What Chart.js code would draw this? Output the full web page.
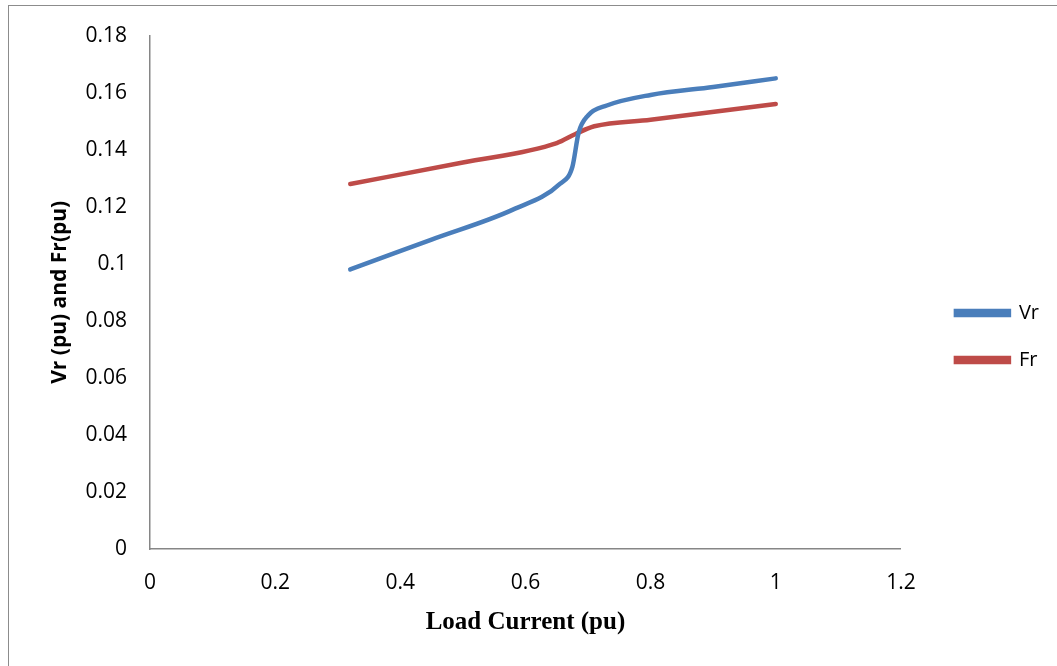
<!DOCTYPE html>
<html>
<head>
<meta charset="utf-8">
<script src="https://cdn.jsdelivr.net/npm/chart.js@4"></script>
<style>
  html, body { margin: 0; padding: 0; background: #fff; }
  #wrap { position: relative; width: 1057px; height: 666px; overflow: hidden; }
  #frame { position: absolute; left: 8px; top: 5px; width: 1060px; height: 680px; border: 1.5px solid #8c8c8c; box-sizing: border-box; }
  #chartCanvas { position: absolute; left: 0; top: 0; }
</style>
</head>
<body>
<div id="wrap">
  <div id="frame"></div>
  <canvas id="chartCanvas" width="1057" height="666"></canvas>
</div>
<script>
// --- data ---
const vrX = [0.32, 0.45, 0.58, 0.655, 0.675, 0.685, 0.70, 0.73, 0.80, 0.90, 1.0];
const vrY = [0.098, 0.1085, 0.119, 0.128, 0.134, 0.146, 0.152, 0.1555, 0.1592, 0.162, 0.165];

const frX = [0.32, 0.50, 0.65, 0.68, 0.71, 0.80, 1.0];
const frY = [0.128, 0.1355, 0.1423, 0.1455, 0.1482, 0.1505, 0.156];

const seriesNames = ["Vr", "Fr"];
const xTitle = "Load Current (pu)";
const yTitle = "Vr (pu) and Fr(pu)";

const toPoints = (xs, ys) => xs.map((x, i) => ({ x, y: ys[i] }));
// Excel style tick text: 0.1 not 0.10, 1 not 1.0
const plainTick = v => String(Number(v.toFixed(2)));

const canvas = document.getElementById("chartCanvas");
const axisColor = "#868686";
const tickFont = { family: "'Open Sans', sans-serif", size: 21 };

// nudge the legend right, away from the plot (Excel keeps a gap there)
const legendShift = {
  id: "legendShift",
  afterLayout(chart) {
    const lg = chart.legend;
    if (!lg) return;
    lg.left += 28;
    lg.right += 28;
    (lg.legendHitBoxes || []).forEach(b => { b.left += 28; });
  }
};

new Chart(canvas, {
  type: "line",
  data: {
    datasets: [
      {
        label: seriesNames[0],
        data: toPoints(vrX, vrY),
        borderColor: "#4a7ebb",
        backgroundColor: "#4a7ebb",
        borderWidth: 4.5,
        pointRadius: 0,
        cubicInterpolationMode: "monotone",
        borderCapStyle: "round"
      },
      {
        label: seriesNames[1],
        data: toPoints(frX, frY),
        borderColor: "#be4b48",
        backgroundColor: "#be4b48",
        borderWidth: 4.5,
        pointRadius: 0,
        cubicInterpolationMode: "monotone",
        borderCapStyle: "round"
      }
    ]
  },
  options: {
    responsive: false,
    animation: false,
    layout: { padding: { top: 35, left: 47, right: 36, bottom: 28 } },
    plugins: {
      tooltip: { enabled: false },
      legend: {
        position: "right",
        labels: {
          boxWidth: 53,
          boxHeight: 4,
          padding: 27,
          color: "#000",
          font: { family: "'Open Sans', sans-serif", size: 20 }
        }
      }
    },
    scales: {
      x: {
        type: "linear",
        min: 0,
        max: 1.2,
        ticks: { stepSize: 0.2, color: "#000", font: tickFont, padding: 21, callback: plainTick },
        grid: { display: false, drawTicks: false },
        border: { color: axisColor, width: 1.5 },
        title: {
          display: true,
          text: xTitle,
          color: "#000",
          font: { family: "'Liberation Serif', serif", size: 25, weight: "bold" },
          padding: { top: 10, bottom: 0 }
        },
        afterFit: s => { s.height = 666 - 549 - 28; }
      },
      y: {
        min: 0,
        max: 0.18,
        ticks: { stepSize: 0.02, color: "#000", font: tickFont, padding: 23, callback: plainTick },
        grid: { display: false, drawTicks: false },
        border: { color: axisColor, width: 1.5 },
        title: {
          display: true,
          text: yTitle,
          color: "#000",
          font: { family: "'Open Sans', sans-serif", size: 21, weight: "bold" },
          padding: { top: 0, bottom: 0 }
        },
        afterFit: s => { s.width = 150 - 47; }
      }
    }
  },
  plugins: [legendShift]
});
</script>
</body>
</html>
